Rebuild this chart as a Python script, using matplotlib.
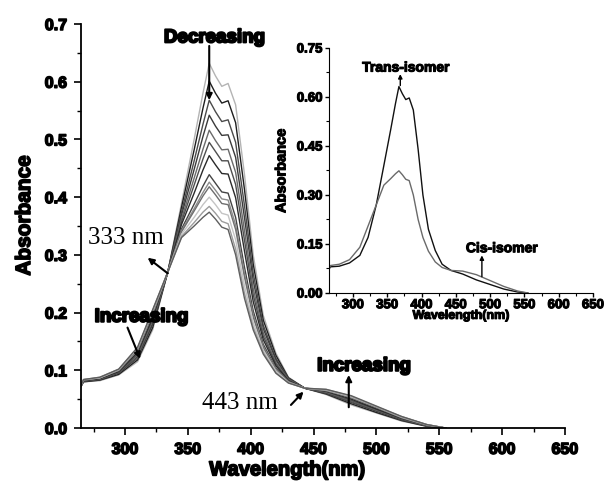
import matplotlib
matplotlib.use('Agg')
import matplotlib.pyplot as plt
import matplotlib.patheffects as pe
from matplotlib.ticker import MultipleLocator, FormatStrFormatter

plt.rcParams['font.family'] = ['Liberation Sans', 'DejaVu Sans']
plt.rcParams['font.weight'] = 'bold'

# wavelength grid (nm)
wavelength = [265, 267, 280, 295, 310, 322, 334, 345, 355, 362, 367, 372, 377, 382,
              388, 395, 402, 410, 420, 430, 443, 460, 480, 500, 520, 540, 555]

# spectra during irradiation, from trans-rich (top) to cis-rich (bottom)
abs_01 = [0.072, 0.080, 0.082, 0.092, 0.115, 0.170, 0.270, 0.390, 0.500, 0.580, 0.632, 0.610, 0.592, 0.597,
          0.560, 0.440, 0.300, 0.195, 0.130, 0.088, 0.069, 0.058, 0.040, 0.026, 0.012, 0.003, 0.000]
abs_02 = [0.072, 0.080, 0.083, 0.093, 0.118, 0.174, 0.270, 0.383, 0.482, 0.554, 0.601, 0.580, 0.563, 0.567,
          0.529, 0.414, 0.284, 0.187, 0.126, 0.087, 0.069, 0.059, 0.042, 0.027, 0.013, 0.003, 0.000]
abs_03 = [0.073, 0.081, 0.084, 0.095, 0.121, 0.179, 0.270, 0.375, 0.463, 0.526, 0.568, 0.548, 0.531, 0.534,
          0.495, 0.386, 0.268, 0.178, 0.121, 0.086, 0.069, 0.060, 0.044, 0.029, 0.014, 0.004, 0.000]
abs_04 = [0.073, 0.081, 0.084, 0.096, 0.124, 0.182, 0.270, 0.369, 0.448, 0.505, 0.542, 0.523, 0.507, 0.508,
          0.469, 0.365, 0.255, 0.172, 0.118, 0.085, 0.069, 0.061, 0.046, 0.030, 0.015, 0.004, 0.000]
abs_05 = [0.073, 0.082, 0.085, 0.097, 0.126, 0.186, 0.270, 0.363, 0.433, 0.483, 0.516, 0.498, 0.482, 0.483,
          0.443, 0.343, 0.242, 0.165, 0.114, 0.084, 0.069, 0.062, 0.047, 0.031, 0.016, 0.004, 0.000]
abs_06 = [0.073, 0.082, 0.085, 0.097, 0.128, 0.189, 0.270, 0.358, 0.421, 0.466, 0.495, 0.479, 0.463, 0.463,
          0.422, 0.326, 0.231, 0.159, 0.111, 0.083, 0.069, 0.063, 0.048, 0.032, 0.016, 0.005, 0.000]
abs_07 = [0.073, 0.082, 0.086, 0.098, 0.131, 0.192, 0.270, 0.353, 0.407, 0.447, 0.472, 0.456, 0.441, 0.440,
          0.399, 0.307, 0.219, 0.153, 0.108, 0.082, 0.069, 0.064, 0.050, 0.033, 0.017, 0.005, 0.000]
abs_08 = [0.074, 0.083, 0.087, 0.100, 0.134, 0.196, 0.270, 0.345, 0.388, 0.419, 0.439, 0.424, 0.409, 0.407,
          0.365, 0.279, 0.203, 0.145, 0.104, 0.081, 0.069, 0.065, 0.052, 0.035, 0.018, 0.005, 0.000]
abs_09 = [0.074, 0.083, 0.087, 0.100, 0.135, 0.198, 0.270, 0.342, 0.380, 0.408, 0.426, 0.412, 0.397, 0.395,
          0.352, 0.268, 0.196, 0.141, 0.102, 0.080, 0.069, 0.065, 0.053, 0.036, 0.018, 0.005, 0.000]
abs_10 = [0.074, 0.083, 0.087, 0.100, 0.136, 0.199, 0.270, 0.340, 0.376, 0.402, 0.418, 0.404, 0.389, 0.387,
          0.344, 0.262, 0.192, 0.139, 0.101, 0.080, 0.069, 0.065, 0.053, 0.036, 0.019, 0.006, 0.000]
abs_11 = [0.074, 0.084, 0.087, 0.101, 0.138, 0.202, 0.270, 0.336, 0.365, 0.387, 0.400, 0.387, 0.372, 0.369,
          0.326, 0.247, 0.183, 0.135, 0.099, 0.079, 0.069, 0.066, 0.054, 0.037, 0.019, 0.006, 0.000]
abs_12 = [0.074, 0.084, 0.088, 0.102, 0.139, 0.204, 0.270, 0.332, 0.356, 0.374, 0.384, 0.372, 0.358, 0.354,
          0.310, 0.234, 0.175, 0.131, 0.096, 0.078, 0.069, 0.067, 0.055, 0.037, 0.020, 0.006, 0.000]
abs_13 = [0.074, 0.084, 0.088, 0.102, 0.140, 0.205, 0.270, 0.330, 0.350, 0.365, 0.374, 0.362, 0.348, 0.344,
          0.300, 0.225, 0.170, 0.128, 0.095, 0.078, 0.069, 0.067, 0.056, 0.038, 0.020, 0.006, 0.000]

spectra = [abs_01, abs_02, abs_03, abs_04, abs_05, abs_06, abs_07,
           abs_08, abs_09, abs_10, abs_11, abs_12, abs_13]
shades = ['#b4b4b4', '#1e1e1e', '#4a4a4a', '#3a3a3a', '#6a6a6a', '#4e4e4e', '#2a2a2a',
          '#444444', '#8c8c8c', '#6e6e6e', '#c4c4c4', '#9c9c9c', '#5e5e5e']

# inset: pure isomers
trans_isomer = abs_01
cis_isomer = abs_13


def heavy(w):
    # fatten the bold glyphs a bit, the original uses a very heavy face
    return [pe.withStroke(linewidth=w, foreground='black')]


fig = plt.figure(figsize=(6.1, 4.87), dpi=100)
ax = fig.add_axes([0.1328, 0.1211, 0.7934, 0.8296])

for y, c in zip(spectra, shades):
    ax.plot(wavelength, y, color=c, lw=1.0)

ax.set_xlim(265, 650)
ax.set_ylim(0, 0.7)
ax.spines['top'].set_visible(False)
ax.spines['right'].set_visible(False)
for s in ('left', 'bottom'):
    ax.spines[s].set_linewidth(1.3)
ax.xaxis.set_major_locator(MultipleLocator(50))
ax.xaxis.set_minor_locator(MultipleLocator(25))
ax.yaxis.set_major_locator(MultipleLocator(0.1))
ax.yaxis.set_minor_locator(MultipleLocator(0.05))
ax.yaxis.set_major_formatter(FormatStrFormatter('%.1f'))
ax.tick_params(which='major', direction='out', length=5, width=1.2, labelsize=11.5, pad=5)
ax.tick_params(which='minor', direction='out', length=3, width=1.0)
for lab in ax.get_xticklabels() + ax.get_yticklabels():
    lab.set_fontweight('bold')
    lab.set_path_effects(heavy(1.1))
ax.set_xlabel('Wavelength(nm)', fontsize=14.5, fontweight='bold', path_effects=heavy(1.2))
ax.xaxis.set_label_coords(0.426, -0.08)
ax.set_ylabel('Absorbance', fontsize=15, fontweight='bold', path_effects=heavy(1.1))
ax.yaxis.set_label_coords(-0.097, 0.527)

arrow = dict(arrowstyle='-|>', color='black', lw=1.5, mutation_scale=9, shrinkA=0, shrinkB=0)
ax.annotate('', xy=(367, 0.568), xytext=(367, 0.662), arrowprops=arrow)
ax.text(371, 0.676, 'Decreasing', fontsize=13.5, fontweight='bold', ha='center', va='center',
        path_effects=heavy(1.5))

ax.annotate('', xy=(318, 0.295), xytext=(334, 0.268), arrowprops=arrow)
ax.text(301, 0.329, '333 nm', fontsize=18, family='Liberation Serif', fontweight='normal',
        ha='center', va='center')

ax.annotate('', xy=(312, 0.12), xytext=(302, 0.174), arrowprops=arrow)
ax.text(313, 0.192, 'Increasing', fontsize=13.5, fontweight='bold', ha='center', va='center',
        path_effects=heavy(1.5))

ax.annotate('', xy=(442, 0.063), xytext=(432, 0.040), arrowprops=arrow)
ax.text(391, 0.043, '443 nm', fontsize=18, family='Liberation Serif', fontweight='normal',
        ha='center', va='center')

ax.annotate('', xy=(478, 0.092), xytext=(478, 0.036), arrowprops=arrow)
ax.text(490, 0.107, 'Increasing', fontsize=13.5, fontweight='bold', ha='center', va='center',
        path_effects=heavy(1.5))

# inset
ins = fig.add_axes([0.5393, 0.3984, 0.4328, 0.5031])
ins.plot(wavelength, trans_isomer, color='#111111', lw=1.0)
ins.plot(wavelength, cis_isomer, color='#6a6a6a', lw=1.0)
ins.set_xlim(265, 650)
ins.set_ylim(0, 0.75)
ins.spines['top'].set_visible(False)
ins.spines['right'].set_visible(False)
ins.xaxis.set_major_locator(MultipleLocator(50))
ins.xaxis.set_minor_locator(MultipleLocator(25))
ins.yaxis.set_major_locator(MultipleLocator(0.15))
ins.yaxis.set_minor_locator(MultipleLocator(0.075))
ins.yaxis.set_major_formatter(FormatStrFormatter('%.2f'))
ins.tick_params(which='major', direction='out', length=3, width=1.0, labelsize=9.5, pad=1.5)
ins.tick_params(which='minor', direction='out', length=2, width=0.8)
for lab in ins.get_xticklabels() + ins.get_yticklabels():
    lab.set_fontweight('bold')
    lab.set_path_effects(heavy(0.8))
ins.set_xlabel('Wavelength(nm)', fontsize=9, fontweight='bold', labelpad=-1, path_effects=heavy(0.8))
ins.set_ylabel('Absorbance', fontsize=10.5, fontweight='bold', labelpad=6, path_effects=heavy(0.8))

small = dict(arrowstyle='-|>', color='black', lw=1.0, mutation_scale=6, shrinkA=0, shrinkB=0)
ins.annotate('', xy=(369, 0.67), xytext=(369, 0.635), arrowprops=small)
ins.text(377, 0.69, 'Trans-isomer', fontsize=10, fontweight='bold', ha='center', va='center',
         path_effects=heavy(0.8))
ins.annotate('', xy=(488, 0.115), xytext=(488, 0.05), arrowprops=small)
ins.text(517, 0.137, 'Cis-isomer', fontsize=10, fontweight='bold', ha='center', va='center',
         path_effects=heavy(0.8))

fig.savefig('out.png', dpi=100)
